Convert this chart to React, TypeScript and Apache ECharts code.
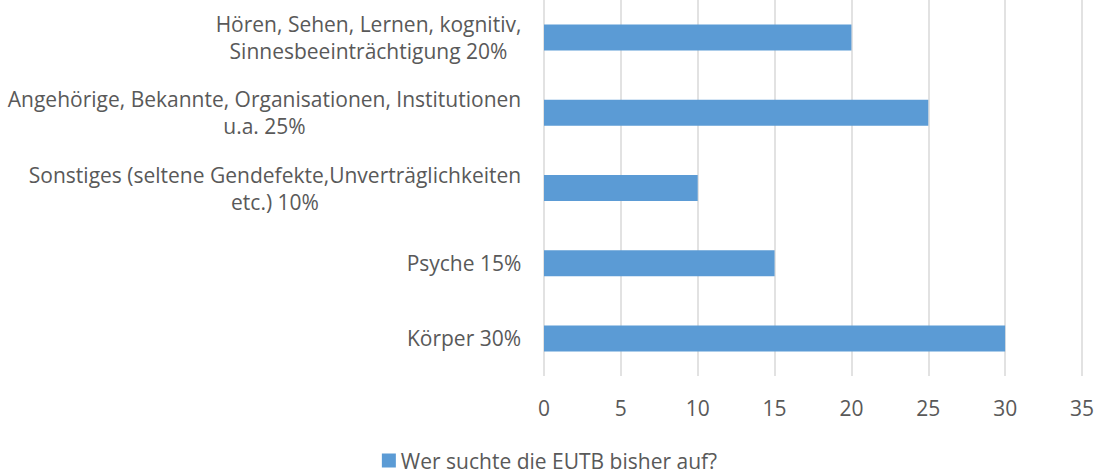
import React, { useEffect, useRef } from "react";
import * as echarts from "echarts";

const categories = [
  "Körper 30%",
  "Psyche 15%",
  "Sonstiges (seltene Gendefekte,Unverträglichkeiten\netc.) 10%",
  "Angehörige, Bekannte, Organisationen, Institutionen\nu.a. 25%",
  "Hören, Sehen, Lernen, kognitiv,\nSinnesbeeinträchtigung 20%",
];
const values = [30, 15, 10, 25, 20];
const seriesName = "Wer suchte die EUTB bisher auf?";
const FONT = "'Open Sans', 'Liberation Sans', sans-serif";
const FS = 21;

export default function App() {
  const ref = useRef<HTMLDivElement>(null);
  useEffect(() => {
    const chart = echarts.init(ref.current!, undefined, { renderer: "svg" });
    const ctx = document.createElement("canvas").getContext("2d")!;
    ctx.font = `${FS}px ${FONT}`;
    const rich: Record<string, any> = {};
    categories.forEach((c, i) => {
      const w = Math.max(...c.split("\n").map((l) => ctx.measureText(l).width));
      rich["c" + i] = {
        width: Math.ceil(w) + 1,
        align: "center",
        fontSize: FS,
        lineHeight: 27,
        color: "#595959",
        fontFamily: FONT,
      };
    });
    chart.setOption({
      animation: false,
      textStyle: { fontFamily: FONT },
      grid: { left: 544, right: 17, top: 0, height: 376 },
      legend: {
        top: 445,
        left: "center",
        itemWidth: 14,
        itemHeight: 14,
        itemGap: 6,
        icon: "rect",
        textStyle: { color: "#595959", fontSize: FS, fontFamily: FONT },
        data: [seriesName],
      },
      xAxis: {
        type: "value",
        min: 0,
        max: 35,
        interval: 5,
        axisLine: { show: false },
        axisTick: { show: false },
        splitLine: { lineStyle: { color: "#D9D9D9", width: 1.5 } },
        axisLabel: { color: "#595959", fontSize: FS, margin: 21, fontFamily: FONT },
      },
      yAxis: {
        type: "category",
        data: categories,
        axisLine: { show: false },
        axisTick: { show: false },
        axisLabel: {
          color: "#595959",
          fontSize: FS,
          lineHeight: 27,
          margin: 22,
          align: "right",
          fontFamily: FONT,
          formatter: (v: string, i: number) =>
            v
              .split("\n")
              .map((l) => `{c${i}|${l}}`)
              .join("\n"),
          rich,
        },
      },
      series: [
        {
          name: seriesName,
          type: "bar",
          data: values,
          barWidth: 26,
          itemStyle: { color: "#5B9BD5" },
        },
      ],
    });
    return () => chart.dispose();
  }, []);
  return <div ref={ref} style={{ width: 1099, height: 473, position: "absolute", left: 0, top: 0 }} />;
}
